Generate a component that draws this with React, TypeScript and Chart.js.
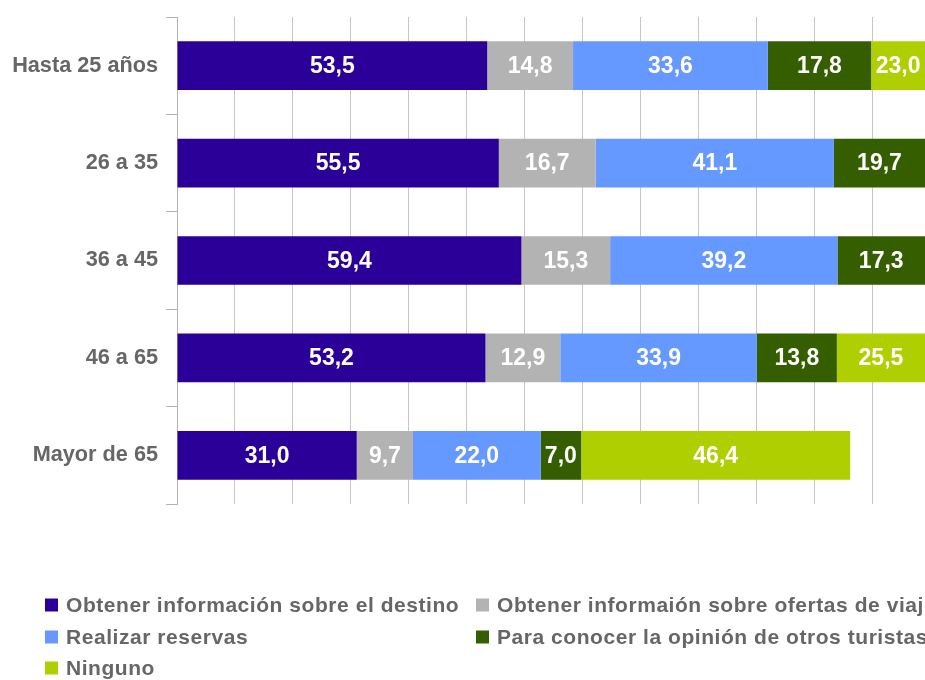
import React, { useEffect, useRef } from 'react';
import { Chart, registerables } from 'chart.js';

Chart.register(...registerables);

const categories = ['Hasta 25 años', '26 a 35', '36 a 45', '46 a 65', 'Mayor de 65'];
const seriesNames = [
  'Obtener información sobre el destino',
  'Obtener informaión sobre ofertas de viajes',
  'Realizar reservas',
  'Para conocer la opinión de otros turistas',
  'Ninguno',
];
const destino = [53.5, 55.5, 59.4, 53.2, 31.0];
const ofertas = [14.8, 16.7, 15.3, 12.9, 9.7];
const reservas = [33.6, 41.1, 39.2, 33.9, 22.0];
const opinion = [17.8, 19.7, 17.3, 13.8, 7.0];
const ninguno: (number | null)[] = [23.0, null, null, 25.5, 46.4];
const colors = ['#2a0099', '#b3b3b3', '#6699ff', '#355e00', '#afcf00'];
const xMax = 129;

const FONT = '"Liberation Sans", Arial, sans-serif';

const valueLabels = {
  id: 'valueLabels',
  afterDatasetsDraw(chart: any) {
    const { ctx, chartArea } = chart;
    ctx.save();
    ctx.font = `bold 23px ${FONT}`;
    ctx.fillStyle = '#ffffff';
    ctx.textAlign = 'center';
    ctx.textBaseline = 'middle';
    chart.data.datasets.forEach((ds: any, di: number) => {
      const meta = chart.getDatasetMeta(di);
      meta.data.forEach((el: any, i: number) => {
        const v = ds.data[i];
        if (v === null || v === undefined) return;
        const l = Math.max(Math.min(el.base, el.x), chartArea.left);
        const r = Math.min(Math.max(el.base, el.x), chartArea.right);
        if (r - l <= 2) return;
        ctx.fillText(v.toFixed(1).replace('.', ','), (l + r) / 2, el.y + 1);
      });
    });
    ctx.restore();
  },
};

const gridLegend = {
  id: 'gridLegend',
  afterDraw(chart: any) {
    const { ctx } = chart;
    ctx.save();
    ctx.font = `bold 21px ${FONT}`;
    ctx.textBaseline = 'middle';
    ctx.textAlign = 'left';
    try { (ctx as any).letterSpacing = '0.55px'; } catch (e) {}
    const colX = [45, 476];
    const rowY = [605, 637, 668];
    chart.data.datasets.forEach((ds: any, i: number) => {
      const x = colX[i % 2];
      const y = rowY[Math.floor(i / 2)];
      ctx.fillStyle = ds.backgroundColor;
      ctx.fillRect(x, y - 6.5, 13, 13);
      ctx.fillStyle = '#666666';
      ctx.fillText(ds.label, x + 21, y + 1);
    });
    ctx.restore();
  },
};

export default function App() {
  const ref = useRef<HTMLCanvasElement>(null);
  useEffect(() => {
    if (!ref.current) return;
    const seriesData = [destino, ofertas, reservas, opinion, ninguno];
    const chart = new Chart(ref.current, {
      type: 'bar',
      data: {
        labels: categories,
        datasets: seriesData.map((d, i) => ({
          label: seriesNames[i],
          data: d,
          backgroundColor: colors[i],
          borderWidth: 0,
          barPercentage: 0.5,
          categoryPercentage: 1.0,
          clip: 0,
        })),
      },
      options: {
        indexAxis: 'y',
        responsive: false,
        animation: false,
        layout: { padding: { top: 17, bottom: 176, left: 0, right: 0 } },
        plugins: { legend: { display: false }, tooltip: { enabled: false } },
        scales: {
          x: {
            stacked: true,
            min: 0,
            max: xMax,
            ticks: { display: false, stepSize: 10 },
            grid: {
              color: (c: any) =>
                c.tick && c.tick.value % 10 === 0 && c.tick.value > 0 ? '#c6c6c6' : 'rgba(0,0,0,0)',
              drawTicks: false,
              lineWidth: 1,
            },
            border: { display: false },
            afterFit: (s: any) => { s.height = 0; s.paddingLeft = 0; s.paddingRight = 0; },
          },
          y: {
            stacked: true,
            ticks: {
              color: '#666666',
              font: { family: FONT, size: 21.7, weight: 'bold' },
              padding: 8,
            },
            grid: { offset: true, drawOnChartArea: false, tickLength: 11, color: '#b3b3b3' },
            border: { display: true, color: '#b3b3b3' },
            afterFit: (s: any) => { s.width = 177; s.paddingTop = 0; s.paddingBottom = 0; },
          },
        },
      } as any,
      plugins: [valueLabels, gridLegend],
    });
    return () => chart.destroy();
  }, []);
  return (
    <div style={{ position: 'fixed', left: 0, top: 0, width: 925, height: 680, overflow: 'hidden', background: '#fff' }}>
      <canvas ref={ref} width={925} height={680} style={{ display: 'block' }} />
    </div>
  );
}
